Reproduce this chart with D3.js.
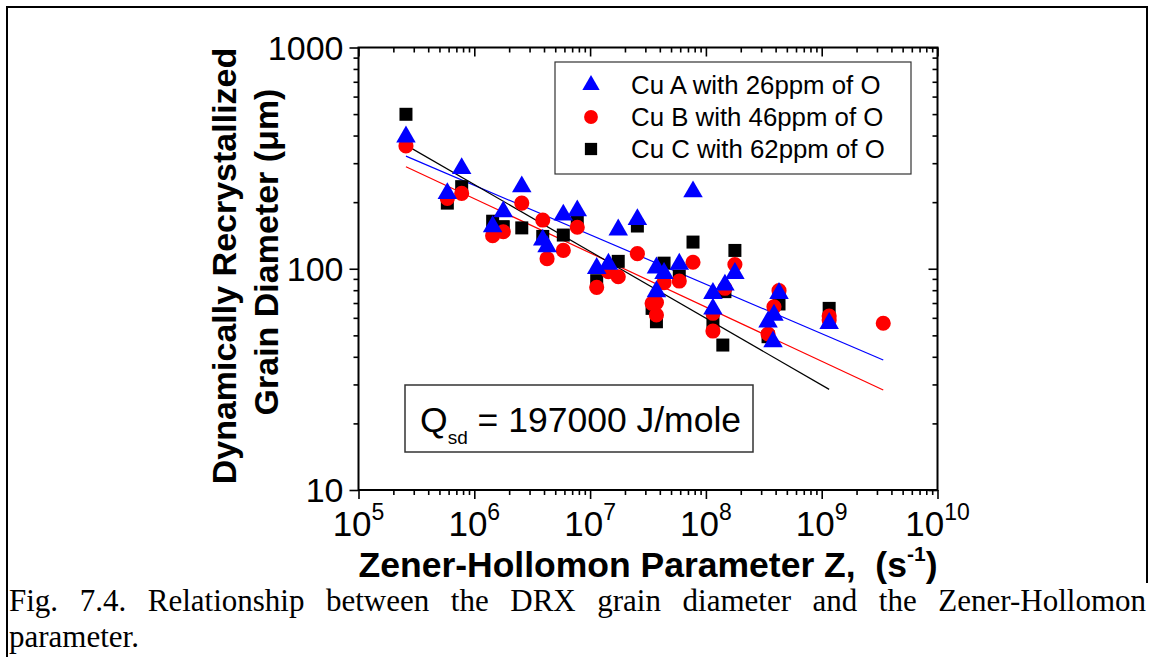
<!DOCTYPE html>
<html>
<head>
<meta charset="utf-8">
<script src="https://cdn.jsdelivr.net/npm/d3@7"></script>
<style>
  body { margin: 0; background: #fff; }
  svg { display: block; }
</style>
</head>
<body>
<svg width="1154" height="657"></svg>
<script>
// Zener-Hollomon parameter Z (1/s) vs. DRX grain diameter (um)
const cuA = [
  [2.57e5, 395], [5.85e5, 219], [7.78e5, 284], [1.44e6, 155], [1.78e6, 181],
  [2.57e6, 235], [3.9e6, 135], [4.25e6, 126], [5.87e6, 175], [7.75e6, 183],
  [1.14e7, 100.5], [1.44e7, 105], [1.75e7, 150], [2.56e7, 167], [3.74e7, 101],
  [3.74e7, 78.8], [4.35e7, 95.4], [5.89e7, 105], [7.74e7, 223], [1.15e8, 77.4],
  [1.15e8, 65.8], [1.46e8, 84.5], [1.78e8, 95.4], [4.28e8, 77.4], [3.87e8, 61.8],
  [3.44e8, 57.6], [3.8e8, 46.8], [1.16e9, 56.7]
];
const cuB = [
  [2.57e5, 359], [5.85e5, 208], [7.78e5, 219], [1.44e6, 141], [1.78e6, 147],
  [2.57e6, 198], [3.9e6, 166], [4.25e6, 111], [5.87e6, 121], [7.75e6, 154],
  [1.14e7, 82.4], [1.44e7, 97], [1.75e7, 92], [2.56e7, 117], [3.43e7, 69.8],
  [3.74e7, 70.3], [3.74e7, 61.8], [4.35e7, 86.5], [5.89e7, 88], [7.74e7, 107],
  [1.15e8, 62.9], [1.15e8, 52.3], [1.46e8, 81.6], [1.78e8, 104.5], [4.28e8, 79.6],
  [3.87e8, 67.3], [3.44e8, 50.7], [1.16e9, 61.1], [1.16e9, 58.6], [3.4e9, 56.7]
];
const cuC = [
  [2.57e5, 499], [5.85e5, 198], [7.78e5, 235], [1.44e6, 164], [1.78e6, 155],
  [2.57e6, 153], [3.9e6, 140], [5.87e6, 142], [7.75e6, 163], [1.14e7, 88.3],
  [1.75e7, 108], [2.56e7, 156], [3.43e7, 66.2], [3.74e7, 57.6], [4.35e7, 106],
  [5.89e7, 92.7], [7.74e7, 132], [1.15e8, 57.6], [1.4e8, 45.2], [1.46e8, 78.8],
  [1.78e8, 121], [4.28e8, 69.3], [3.44e8, 49.3], [1.16e9, 66.2]
];
// fitted power-law lines (end points)
const fitA = [[2.57e5, 323], [3.4e9, 38.7]];
const fitB = [[2.57e5, 289], [3.4e9, 28.3]];
const fitC = [[2.57e5, 362], [1.16e9, 28.5]];

const legendLabels = ['Cu A with 26ppm of O', 'Cu B with 46ppm of O', 'Cu C with 62ppm of O'];
const xTickExp = ['5', '6', '7', '8', '9', '10'];
const yTickLabels = ['10', '100', '1000'];
const caption1 = 'Fig. 7.4. Relationship between the DRX grain diameter and the Zener-Hollomon';
const caption2 = 'parameter.';

const sans = '"Liberation Sans", Arial, sans-serif';
const serif = '"Liberation Serif", "Times New Roman", serif';

const svg = d3.select('svg');
const width = +svg.attr('width');
const height = +svg.attr('height');

const margin = { top: 47.5, right: 216.5, bottom: 167, left: 358.5 };

const xScale = d3.scaleLog()
  .domain([1e5, 1e10])
  .range([margin.left, width - margin.right]);
const yScale = d3.scaleLog()
  .domain([10, 1000])
  .range([height - margin.bottom, margin.top]);

const x0 = xScale.range()[0], x1 = xScale.range()[1];
const y0 = yScale.range()[0], y1 = yScale.range()[1];

// outer border (left, top, right)
svg.append('path')
  .attr('d', 'M7,700 L7,7 L1147,7 L1147,583')
  .attr('fill', 'none').attr('stroke', '#000').attr('stroke-width', 2);

const isMajor = v => Math.abs(Math.log10(v) - Math.round(Math.log10(v))) < 1e-9;
const xMinor = xScale.ticks().filter(v => !isMajor(v));
const yMinor = yScale.ticks().filter(v => !isMajor(v));
const xMajor = xTickExp.map(e => Math.pow(10, +e));
const yMajor = yTickLabels.map(Number);

const styleAxis = g => {
  g.select('.domain').remove();
  g.selectAll('.tick line').attr('stroke', '#000').attr('stroke-width', 1.6);
  g.selectAll('.tick text').remove();
};

// bottom
svg.append('g').attr('transform', `translate(0,${y0})`)
  .call(d3.axisBottom(xScale).tickValues(xMajor).tickSize(9)).call(styleAxis);
svg.append('g').attr('transform', `translate(0,${y0})`)
  .call(d3.axisBottom(xScale).tickValues(xMinor).tickSize(5)).call(styleAxis);
// top (inward)
svg.append('g').attr('transform', `translate(0,${y1})`)
  .call(d3.axisBottom(xScale).tickValues(xMajor).tickSize(9)).call(styleAxis);
svg.append('g').attr('transform', `translate(0,${y1})`)
  .call(d3.axisBottom(xScale).tickValues(xMinor).tickSize(5)).call(styleAxis);
// left
svg.append('g').attr('transform', `translate(${x0},0)`)
  .call(d3.axisLeft(yScale).tickValues(yMajor).tickSize(9)).call(styleAxis);
svg.append('g').attr('transform', `translate(${x0},0)`)
  .call(d3.axisLeft(yScale).tickValues(yMinor).tickSize(5)).call(styleAxis);
// right (inward)
svg.append('g').attr('transform', `translate(${x1},0)`)
  .call(d3.axisLeft(yScale).tickValues(yMajor).tickSize(9)).call(styleAxis);
svg.append('g').attr('transform', `translate(${x1},0)`)
  .call(d3.axisLeft(yScale).tickValues(yMinor).tickSize(5)).call(styleAxis);

// frame
svg.append('rect')
  .attr('x', x0).attr('y', y1)
  .attr('width', x1 - x0).attr('height', y0 - y1)
  .attr('fill', 'none').attr('stroke', '#000').attr('stroke-width', 2);

// tick labels
svg.append('g').selectAll('text').data(yMajor).enter().append('text')
  .attr('x', x0 - 15)
  .attr('y', d => yScale(d) + 12)
  .attr('text-anchor', 'end')
  .style('font-family', sans)
  .attr('font-size', 34)
  .text((d, i) => yTickLabels[i]);

const xt = svg.append('g').selectAll('text').data(xMajor).enter().append('text')
  .attr('x', d => xScale(d))
  .attr('y', 536)
  .attr('text-anchor', 'middle')
  .style('font-family', sans)
  .attr('font-size', 35);
xt.append('tspan').text('10');
xt.append('tspan').attr('font-size', 23).attr('dy', -16).text((d, i) => xTickExp[i]);

// axis titles
const xTitle = svg.append('text')
  .attr('x', 648).attr('y', 577)
  .attr('text-anchor', 'middle')
  .style('font-family', sans)
  .attr('font-size', 35.5).attr('font-weight', 'bold');
xTitle.append('tspan').text('Zener-Hollomon Parameter Z,\u00a0 (s');
xTitle.append('tspan').attr('font-size', 21).attr('dy', -16).text('-1');
xTitle.append('tspan').attr('dy', 16).text(')');

svg.append('text')
  .attr('transform', 'translate(236,266) rotate(-90)')
  .attr('text-anchor', 'middle')
  .style('font-family', sans)
  .attr('font-size', 34).attr('font-weight', 'bold')
  .text('Dynamically Recrystallized');
svg.append('text')
  .attr('transform', 'translate(278,252) rotate(-90)')
  .attr('text-anchor', 'middle')
  .style('font-family', sans)
  .attr('font-size', 34).attr('font-weight', 'bold')
  .text('Grain Diameter (\u03bcm)');

// fit lines
const line = d3.line().x(d => xScale(d[0])).y(d => yScale(d[1]));
const fits = [[fitA, '#0000ff'], [fitB, '#ff0000'], [fitC, '#000000']];
svg.append('g').selectAll('path').data(fits).enter().append('path')
  .attr('d', d => line(d[0]))
  .attr('fill', 'none')
  .attr('stroke', d => d[1])
  .attr('stroke-width', 1.2);

// markers
const series = [
  { data: cuC, color: '#000', type: d3.symbolSquare, size: 169 },
  { data: cuB, color: '#ff0000', type: d3.symbolCircle, size: 180 },
  { data: cuA, color: '#0000ff', type: d3.symbolTriangle, size: 165 }
];
series.forEach(s => {
  svg.append('g').selectAll('path').data(s.data).enter().append('path')
    .attr('transform', d => `translate(${xScale(d[0])},${yScale(d[1])})`)
    .attr('d', d3.symbol().type(s.type).size(s.size))
    .attr('fill', s.color);
});

// legend
const legend = svg.append('g');
legend.append('rect')
  .attr('x', 555).attr('y', 62).attr('width', 356).attr('height', 112)
  .attr('fill', '#fff').attr('stroke', '#333').attr('stroke-width', 1.2);
const legendSym = [
  [d3.symbolTriangle, '#0000ff', 130],
  [d3.symbolCircle, '#ff0000', 150],
  [d3.symbolSquare, '#000', 150]
];
legendLabels.forEach((lab, i) => {
  const cy = 85 + i * 32;
  legend.append('path')
    .attr('transform', `translate(591,${cy})`)
    .attr('d', d3.symbol().type(legendSym[i][0]).size(legendSym[i][2]))
    .attr('fill', legendSym[i][1]);
  legend.append('text')
    .attr('x', 631).attr('y', cy + 9)
    .style('font-family', sans)
    .attr('font-size', 25.8)
    .text(lab);
});

// Q box
svg.append('rect')
  .attr('x', 405).attr('y', 385).attr('width', 348).attr('height', 67)
  .attr('fill', '#fff').attr('stroke', '#333').attr('stroke-width', 1.5);
const q = svg.append('text').attr('x', 420).attr('y', 432)
  .style('font-family', sans).attr('font-size', 35.5);
q.append('tspan').text('Q');
q.append('tspan').attr('font-size', 19).attr('dy', 12).text('sd');
q.append('tspan').attr('dy', -12).text(' = 197000 J/mole');

// caption: first line justified through word spacing
const capSize = 31;
const left = 9, right = 1146;
const cap1 = svg.append('text')
  .attr('x', left).attr('y', 611)
  .style('font-family', serif).attr('font-size', capSize)
  .text(caption1);
const natural = cap1.node().getComputedTextLength();
const nGaps = caption1.split(' ').length - 1;
cap1.style('word-spacing', ((right - left - natural) / nGaps) + 'px');
svg.append('text')
  .attr('x', left).attr('y', 647)
  .style('font-family', serif).attr('font-size', capSize)
  .text(caption2);
</script>
</body>
</html>
